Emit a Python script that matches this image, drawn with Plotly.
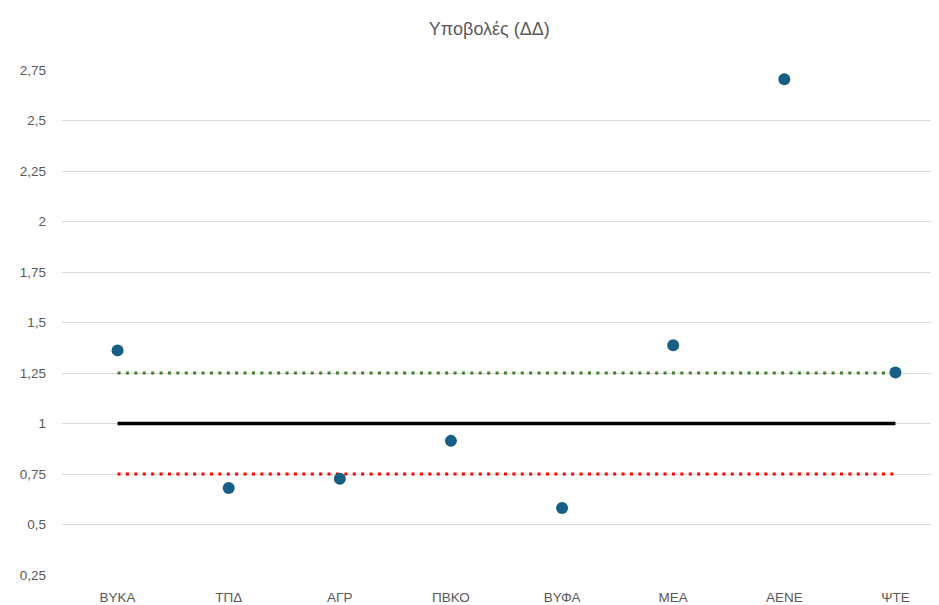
import plotly.graph_objects as go

categories = ["ΒΥΚΑ", "ΤΠΔ", "ΑΓΡ", "ΠΒΚΟ", "ΒΥΦΑ", "ΜΕΑ", "ΑΕΝΕ", "ΨΤΕ"]
values = [1.362, 0.681, 0.727, 0.914, 0.582, 1.387, 2.704, 1.253]
upper_ref = 1.25
center_ref = 1.0
lower_ref = 0.75
ytick_vals = [0.25, 0.5, 0.75, 1, 1.25, 1.5, 1.75, 2, 2.25, 2.5, 2.75]
ytick_text = ["0,25", "0,5", "0,75", "1", "1,25", "1,5", "1,75", "2", "2,25", "2,5", "2,75"]

FONT = "Liberation Sans Narrow, Liberation Sans, Arial, sans-serif"
idx = list(range(len(categories)))

fig = go.Figure()
fig.add_trace(go.Scatter(x=[idx[0], idx[-1]], y=[center_ref, center_ref], mode="lines",
                         line=dict(color="#000000", width=3.3), hoverinfo="skip"))
fig.add_trace(go.Scatter(x=[idx[0], idx[-1]], y=[upper_ref, upper_ref], mode="lines",
                         line=dict(color="#3f7f27", width=3, dash="3px,5.4px"), hoverinfo="skip"))
fig.add_trace(go.Scatter(x=[idx[0], idx[-1]], y=[lower_ref, lower_ref], mode="lines",
                         line=dict(color="#ff0000", width=3, dash="3px,5.4px"), hoverinfo="skip"))
fig.add_trace(go.Scatter(x=idx, y=values, mode="markers",
                         marker=dict(color="#175e85", size=12), name="Υποβολές"))

fig.update_layout(
    width=931, height=597,
    margin=dict(l=54, r=0, t=62, b=30),
    paper_bgcolor="white", plot_bgcolor="white",
    showlegend=False,
    font=dict(family=FONT, color="#595959", size=13),
    title=dict(text="Υποβολές (ΔΔ)", x=0.517, xanchor="center", y=0.965, yanchor="middle",
               font=dict(family=FONT, size=18, color="#595959")),
    xaxis=dict(range=[-0.5, 7.392], tickvals=idx, ticktext=categories, showgrid=False,
               zeroline=False, showline=False, ticks="", ticklabelstandoff=12,
               tickfont=dict(size=13.5, color="#595959")),
    yaxis=dict(range=[0.25, 2.75], tickvals=ytick_vals, ticktext=ytick_text,
               showgrid=True, gridcolor="#d9d9d9", gridwidth=1, zeroline=False,
               showline=False, ticks="", ticklabelstandoff=15,
               tickfont=dict(size=13.5, color="#595959")),
)
fig.write_html("out.html")
